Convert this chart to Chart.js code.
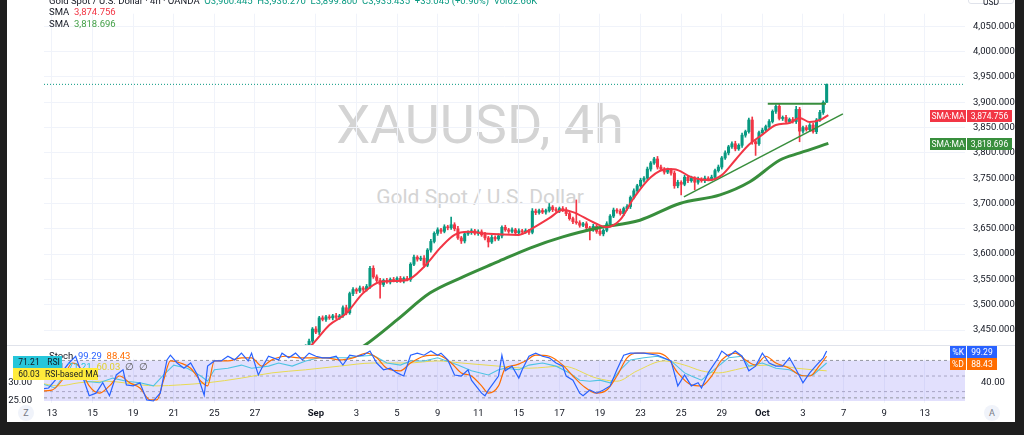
<!DOCTYPE html>
<html>
<head>
<meta charset="utf-8">
<title>XAUUSD, 4h</title>
<script src="https://cdn.jsdelivr.net/npm/chart.js@4.4.1/dist/chart.umd.min.js"></script>
<style>
  html, body { margin: 0; padding: 0; width: 1024px; height: 435px; overflow: hidden; background: #1e1e1e; }
  body { position: relative; font-family: Roboto, "Noto Sans", sans-serif; color: #131722; }
  #panel { position: absolute; left: 7px; top: 0; width: 1008px; height: 422px; background: #fff; }
  canvas { position: absolute; left: 7px; }
  #main { top: 0; }
  #osc  { top: 345px; }
  .abs  { position: absolute; white-space: nowrap; }
  .wm1  { left: 230px; width: 500px; top: 95px; text-align: center; font-size: 54px; line-height: 60px; color: #d4d4d4; }
  .wm2  { left: 280px; width: 400px; top: 184px; text-align: center; font-size: 21px; line-height: 26px; color: #d4d4d4; }
  .leg  { left: 49px; font-size: 9.5px; line-height: 12px; color: #131722; }
  .up   { color: #089981; }
  .badge { position: absolute; height: 12px; line-height: 12px; font-size: 8.5px; text-align: center; color: #fff; white-space: nowrap; }
  .sep  { left: 7px; top: 345px; width: 1008px; height: 1px; background: #e0e3eb; }
  .circ { width: 16px; height: 16px; border-radius: 8px; background: #f0f3fa; font-size: 9px; line-height: 16px; text-align: center; color: #787b86; }
</style>
</head>
<body>
<div id="panel"></div>
<div class="abs wm1">XAUUSD, 4h</div>
<div class="abs wm2">Gold Spot / U.S. Dollar</div>
<div class="abs sep"></div>
<canvas id="main" width="1008" height="345"></canvas>
<canvas id="osc" width="1008" height="77"></canvas>

<!-- legend, main pane -->
<div class="abs leg" style="top:-5px">Gold Spot / U.S. Dollar · 4h · OANDA&nbsp; <span class="up">O3,900.445&nbsp; H3,936.270&nbsp; L3,899.800&nbsp; C3,935.435&nbsp; +35.045 (+0.90%)&nbsp; Vol62.66K</span></div>
<div class="abs leg" style="top:6px">SMA&nbsp; <span style="color:#f23645">3,874.756</span></div>
<div class="abs leg" style="top:18px">SMA&nbsp; <span style="color:#43a047">3,818.696</span></div>

<!-- price scale badges -->
<div class="badge" style="left:968px;top:-9px;width:44px;height:11px;border:1px solid #e0e3eb;border-radius:3px;color:#131722;line-height:20px">USD</div>
<div class="badge" style="left:930px;top:110px;width:36px;background:#f23645">SMA:MA</div>
<div class="badge" style="left:967px;top:110px;width:45px;background:#f23645">3,874.756</div>
<div class="badge" style="left:930px;top:138px;width:36px;background:#388e3c">SMA:MA</div>
<div class="badge" style="left:967px;top:138px;width:45px;background:#388e3c">3,818.696</div>

<!-- legend, oscillator pane -->
<div class="abs leg" style="top:350px">Stoch&nbsp; <span style="color:#2962ff">99.29</span>&nbsp; <span style="color:#ff6d00">88.43</span></div>
<div class="abs leg" style="top:361px">RSI&nbsp; <span style="color:#26c6da">71.21</span>&nbsp; <span style="color:#e0cf2a">60.03</span>&nbsp; <span style="color:#555">∅&nbsp; ∅</span></div>
<div class="badge" style="left:13px;top:356px;width:32px;background:#26c6da;color:#131722">71.21</div>
<div class="badge" style="left:45px;top:356px;width:17px;background:#26c6da;color:#131722">RSI</div>
<div class="badge" style="left:13px;top:368px;width:32px;background:#ffeb3b;color:#131722">60.03</div>
<div class="badge" style="left:45px;top:368px;width:53px;background:#ffeb3b;color:#131722">RSI-based MA</div>
<div class="badge" style="left:950px;top:346px;width:16px;background:#2962ff">%K</div>
<div class="badge" style="left:967px;top:346px;width:30px;background:#2962ff">99.29</div>
<div class="badge" style="left:950px;top:358px;width:16px;background:#ff6d00">%D</div>
<div class="badge" style="left:967px;top:358px;width:30px;background:#ff6d00">88.43</div>

<div class="abs circ" style="left:18px;top:405px">Z</div>
<div class="abs circ" style="left:984px;top:405px">A</div>

<script>
"use strict";

/* ── defaults ───────────────────────────────────────────────────────── */
Chart.defaults.font.family = "Roboto, 'Noto Sans', sans-serif";
Chart.defaults.color = "#131722";

const GRID = "#f0f3fa";
const UP   = "#089981";
const DOWN = "#f23645";

/* x axis is counted in 4h bars from Aug 13 (6 bars per trading day) */
const X_MIN = -2.36, X_MAX = 269.9;
const FIRST_BAR = 75;

const dateTicks  = [0, 12, 24, 36, 48, 60, 78, 90, 102, 114, 126, 138, 150, 162, 174, 186, 198, 210, 222, 234, 246, 258];
const dateLabels = ["13", "15", "19", "21", "25", "27", "Sep", "3", "5", "9", "11", "15", "17", "19", "23", "25", "29", "Oct", "3", "7", "9", "13"];
const priceTicks = [3450, 3500, 3550, 3600, 3650, 3700, 3750, 3800, 3850, 3900, 3950, 4000, 4050];
const PRICE_MIN = 3420.4, PRICE_MAX = 4102.1;   // bottom / top of the price pane

/* ── candles (visible part only) ─────────────────────────────────────── */
const firstOpen = 3410;
const closes = [
  3418, 3428, 3452, 3446, 3474, 3471, 3476, 3474, 3478, 3475,
  3478, 3494, 3484, 3522, 3530, 3527, 3533, 3530, 3536, 3572,
  3555, 3548, 3540, 3548, 3545, 3550, 3548, 3552, 3547, 3552,
  3550, 3580, 3594, 3590, 3592, 3578, 3608, 3625, 3641, 3648,
  3645, 3654, 3652, 3658, 3650, 3632, 3626, 3640, 3643, 3646,
  3641, 3644, 3638, 3632, 3624, 3633, 3630, 3636, 3653, 3648,
  3645, 3648, 3642, 3646, 3644, 3646, 3643, 3685, 3682, 3686,
  3683, 3686, 3693, 3688, 3686, 3690, 3687, 3680, 3670, 3664,
  3662, 3657, 3660, 3652, 3648, 3655, 3645, 3640, 3647, 3660,
  3675, 3687, 3685, 3680, 3690, 3694, 3712, 3725, 3735, 3746,
  3750, 3768, 3780, 3788, 3772, 3768, 3762, 3766, 3760, 3735,
  3742, 3738, 3752, 3745, 3750, 3742, 3748, 3745, 3750, 3748,
  3752, 3765, 3772, 3790, 3800, 3812, 3818, 3808, 3815, 3835,
  3842, 3865, 3822, 3818, 3840, 3845, 3852, 3862, 3882, 3892,
  3868, 3870, 3862, 3866, 3862, 3886, 3843, 3850, 3846, 3855,
  3842, 3865, 3880, 3900, 3935.435
];
const upperWick = [
  3, 4, 3, 5, 3, 4, 3, 4, 3, 5,   3, 4, 5, 3, 4, 3, 4, 3, 4, 4,
  5, 4, 4, 3, 4, 3, 4, 3, 4, 3,   4, 3, 4, 3, 4, 5, 3, 4, 3, 4,
  3, 4, 3, 15, 4, 5, 3, 4, 3, 4,  3, 4, 4, 5, 3, 4, 3, 4, 3, 4,
  3, 4, 3, 4, 3, 4, 3, 5, 4, 3,   4, 3, 7, 3, 4, 3, 4, 5, 4, 3,
  43, 4, 3, 4, 3, 4, 3, 4, 3, 4,  3, 4, 3, 4, 3, 4, 3, 4, 3, 4,
  3, 4, 3, 3, 5, 4, 3, 4, 3, 4,   4, 3, 4, 3, 4, 3, 4, 3, 4, 3,
  4, 3, 4, 3, 4, 3, 4, 5, 3, 4,   3, 4, 6, 4, 3, 4, 3, 4, 3, 3,
  4, 3, 4, 3, 4, 6, 4, 3, 4, 3,   4, 3, 4, 3, 0.8
];
const lowerWick = [
  4, 3, 4, 3, 5, 3, 4, 3, 4, 3,   4, 3, 4, 3, 4, 5, 3, 4, 3, 4,
  3, 4, 27, 4, 3, 4, 3, 4, 3, 4,  3, 4, 3, 4, 3, 4, 3, 4, 3, 4,
  4, 3, 4, 3, 4, 3, 5, 4, 3, 4,   3, 4, 3, 4, 10, 3, 4, 3, 4, 3,
  4, 3, 4, 3, 4, 3, 4, 3, 4, 3,   3, 4, 3, 4, 3, 4, 3, 4, 3, 4,
  3, 4, 3, 4, 20, 3, 4, 3, 4, 3,  4, 3, 4, 3, 4, 3, 4, 3, 4, 3,
  4, 3, 4, 3, 4, 3, 4, 3, 4, 5,   4, 21, 3, 4, 3, 15, 4, 3, 4, 3,
  3, 4, 3, 4, 3, 4, 3, 4, 3, 4,   4, 3, 5, 23, 3, 4, 3, 4, 3, 4,
  3, 4, 3, 4, 3, 4, 21, 4, 3, 4,  3, 4, 3, 4, 0.6
];

/* ── moving averages and drawings, [bar, price] ──────────────────────── */
const smaFast = [[74, 3405], [77, 3422], [82, 3460], [87, 3483], [92, 3523], [97, 3545], [105, 3549],
  [110, 3575], [115, 3614], [119, 3638], [123, 3644], [129, 3640], [138, 3638], [142, 3651], [147, 3671],
  [151, 3687], [154, 3683], [160, 3663], [164, 3653], [168, 3668], [172, 3711], [177, 3752], [182, 3768],
  [185, 3766], [189, 3752], [194, 3746], [198, 3756], [202, 3786], [206, 3816], [210, 3836], [214, 3855],
  [218, 3859], [221, 3869], [224, 3861], [227, 3865], [229.5, 3874.756]];
const smaSlow = [[88.7, 3405], [92.5, 3420], [102, 3470], [111.7, 3523], [121.5, 3555], [131.5, 3584],
  [141.3, 3612], [151, 3634], [161, 3651], [173.8, 3667], [185.6, 3700], [197.5, 3717], [206.3, 3743],
  [215.2, 3786], [221.1, 3800], [229.5, 3818.696]];
const trendUp    = [[186.8, 3713], [233.8, 3877]];
const resistance = [[211.6, 3897], [228.8, 3897]];
const lastPrice  = 3935.435;

/* ── oscillator pane, [bar, value] ───────────────────────────────────── */
const stochK = [[-4, 24], [-1, 27], [2, 50], [5, 75], [7, 88], [9, 50], [11, 12], [13, 17], [15, 37], [17, 12],
  [19, 52], [21, 62], [22, 33], [24, 31], [26, 37], [28, 4], [30, 2], [32, 17], [34, 81], [35, 90], [37, 75],
  [39, 65], [41, 75], [43, 52], [45, 13], [46, 69], [48, 79], [50, 79], [52, 88], [54, 81], [56, 94], [58, 79],
  [59, 94], [61, 52], [62, 65], [64, 88], [67, 81], [68, 94], [70, 85], [72, 94], [74, 81], [76, 94], [78, 88],
  [80, 85], [82, 85], [84, 88], [86, 71], [88, 90], [90, 88], [92, 90], [94, 98], [96, 75], [98, 62], [100, 65],
  [102, 56], [104, 50], [106, 90], [108, 94], [110, 90], [112, 98], [114, 90], [115, 94], [117, 81], [119, 52],
  [121, 50], [123, 62], [124, 42], [127, 17], [128, 12], [129, 23], [132, 50], [133, 90], [134, 60], [136, 69],
  [138, 46], [139, 62], [141, 88], [143, 94], [145, 88], [147, 85], [149, 75], [151, 69], [152, 50], [154, 42],
  [156, 17], [157, 12], [159, 23], [161, 17], [163, 23], [165, 31], [167, 62], [169, 90], [171, 94], [175, 94],
  [179, 90], [183, 79], [185, 31], [187, 52], [189, 31], [191, 37], [192, 27], [194, 56], [197, 85], [198, 98],
  [200, 88], [202, 98], [204, 88], [206, 60], [208, 69], [210, 94], [212, 75], [214, 69], [216, 69], [218, 85],
  [220, 62], [222, 37], [224, 56], [226, 71], [228, 85], [229, 98]];
const stochD = [[-4, 21], [0, 23], [3, 42], [6, 75], [8, 69], [11, 31], [14, 17], [17, 31], [20, 50], [23, 37],
  [26, 27], [29, 4], [31, 4], [33, 42], [35, 79], [38, 75], [41, 65], [44, 40], [46, 31], [48, 79], [52, 79],
  [56, 85], [59, 85], [62, 69], [65, 81], [69, 88], [73, 85], [77, 85], [81, 85], [85, 81], [89, 85], [93, 94],
  [96, 85], [99, 65], [103, 60], [106, 75], [110, 88], [114, 90], [118, 75], [121, 56], [124, 50], [127, 31],
  [129, 17], [132, 31], [134, 65], [137, 71], [140, 79], [143, 90], [147, 88], [151, 71], [154, 50], [157, 31],
  [161, 17], [164, 23], [167, 50], [170, 85], [173, 94], [179, 94], [182, 85], [185, 56], [189, 33], [192, 31],
  [195, 50], [198, 81], [202, 94], [205, 81], [208, 71], [211, 88], [214, 75], [218, 65], [221, 52], [224, 50],
  [227, 71], [229, 88]];
const rsi = [[-4, 37], [1, 27], [4, 56], [7, 62], [10, 40], [14, 37], [18, 46], [22, 40], [26, 37], [30, 31],
  [33, 52], [36, 71], [40, 65], [44, 50], [46, 40], [48, 62], [52, 65], [56, 71], [59, 65], [64, 69], [67, 75],
  [71, 69], [75, 79], [79, 85], [83, 85], [87, 85], [91, 88], [95, 90], [99, 75], [103, 71], [106, 79], [110, 79],
  [114, 85], [120, 71], [124, 60], [129, 52], [132, 62], [134, 65], [138, 62], [141, 71], [145, 75], [149, 69],
  [153, 56], [156, 42], [159, 40], [162, 42], [165, 37], [168, 62], [171, 81], [175, 85], [179, 88], [183, 79],
  [187, 56], [189, 50], [192, 42], [197, 69], [200, 85], [204, 88], [206, 69], [210, 75], [214, 65], [218, 62],
  [222, 50], [225, 52], [229, 75]];
const rsiMA = [[-4, 37], [2, 31], [8, 37], [16, 40], [26, 33], [31, 31], [38, 33], [46, 37], [56, 46], [65, 56],
  [75, 62], [85, 69], [95, 75], [105, 75], [114, 79], [121, 75], [132, 69], [141, 65], [151, 69], [161, 46],
  [167, 40], [173, 60], [181, 79], [187, 71], [192, 60], [197, 56], [202, 62], [207, 69], [214, 71], [220, 65],
  [229, 60]];
const oscLevels = [80, 50, 20, 8];
const bandTop = 80, bandBottom = 2;
const OSC_MIN = -1.9, OSC_MAX = 105.8;          // bottom / top of the oscillator pane
const rightOscTicks = [37],    rightOscLabels = ["40.00"];
const leftOscTicks  = [38, 2], leftOscLabels  = ["30.00", "25.00"];

/* ── helpers ────────────────────────────────────────────────────────── */
const pts   = (arr) => arr.map(([x, y]) => ({ x, y }));
const hline = (v) => [{ x: X_MIN, y: v }, { x: X_MAX, y: v }];
const fmt   = (v) => v.toLocaleString("en-US", { minimumFractionDigits: 3, maximumFractionDigits: 3 });

const bodies = [], wicks = [], candleColors = [];
closes.forEach((c, i) => {
  const o = i === 0 ? firstOpen : closes[i - 1];
  const x = FIRST_BAR + i;
  bodies.push({ x, y: [o, c] });
  wicks.push({ x, y: [Math.min(o, c) - lowerWick[i], Math.max(o, c) + upperWick[i]] });
  candleColors.push(c >= o ? UP : DOWN);
});

const lineDs = (data, color, width, extra = {}) => Object.assign({
  type: "line", data, borderColor: color, borderWidth: width,
  pointRadius: 0, fill: false, tension: 0,
}, extra);

const xScale = (showLabels) => ({
  type: "linear", min: X_MIN, max: X_MAX, offset: false,
  grid: { color: GRID, drawTicks: false, offset: false },
  border: { display: false },
  afterBuildTicks: (s) => { s.ticks = dateTicks.map((v) => ({ value: v })); },
  ticks: showLabels ? {
    autoSkip: false, maxRotation: 0, padding: 5, color: "#131722",
    callback: (v, i) => dateLabels[i],
    font: (c) => ({ size: 9.5, weight: /^[A-Z]/.test(dateLabels[c.index] || "") ? "bold" : "normal" }),
  } : { display: false },
  afterFit: (s) => { s.height = showLabels ? 19 : 0; },
});

const baseOpts = {
  responsive: false, animation: false, events: [],
  plugins: { legend: { display: false }, tooltip: { enabled: false } },
};

/* Chart.js keeps a label inset above and below the plot; widen the value
   range so that vTop sits at canvas pixel pxTop and vBottom at pxBottom,
   and let the marks draw into that inset. */
function pinRange(chart, ids, vTop, vBottom, pxTop, pxBottom) {
  const { top, bottom } = chart.chartArea;
  const perPx = (vTop - vBottom) / (pxBottom - pxTop);
  ids.forEach((id) => {
    chart.options.scales[id].max = vTop - (top - pxTop) * perPx;
    chart.options.scales[id].min = vTop - (bottom - pxTop) * perPx;
  });
  const clip = { left: 0, right: 0, top: Math.max(0, top - pxTop), bottom: Math.max(0, pxBottom - bottom) };
  chart.data.datasets.forEach((ds) => { ds.clip = clip; });
  chart.update("none");
}

/* ── main price pane ────────────────────────────────────────────────── */
const mainChart = new Chart(document.getElementById("main"), {
  type: "bar",
  data: {
    datasets: [
      lineDs(pts(smaFast), "#f23645", 2, { order: 0, cubicInterpolationMode: "monotone" }),
      lineDs(pts(trendUp), "#388e3c", 1.5, { order: 0 }),
      lineDs(pts(resistance), "#388e3c", 2, { order: 0 }),
      lineDs(pts(smaSlow), "#388e3c", 3, { order: 1, cubicInterpolationMode: "monotone" }),
      { label: "bodies", data: bodies, backgroundColor: candleColors, barThickness: 2.4,
        grouped: false, minBarLength: 1, order: 2 },
      { label: "wicks", data: wicks, backgroundColor: candleColors, barThickness: 1,
        grouped: false, order: 3 },
      lineDs(hline(lastPrice), "#089981", 1, { order: 4, borderDash: [1, 2] }),
    ],
  },
  options: Object.assign({}, baseOpts, {
    layout: { autoPadding: false, padding: { left: 37, top: 0, right: 0, bottom: 0 } },
    scales: {
      x: xScale(false),
      y: {
        position: "right", min: PRICE_MIN, max: PRICE_MAX,
        grid: { color: GRID, drawTicks: false },
        border: { display: false },
        afterBuildTicks: (s) => { s.ticks = priceTicks.map((v) => ({ value: v })); },
        ticks: { padding: 8, color: "#131722", font: { size: 9.5 }, callback: (v) => fmt(v) },
        afterFit: (s) => { s.width = 50; },
      },
    },
  }),
});
pinRange(mainChart, ["y"], PRICE_MAX, PRICE_MIN, 0, 345);

/* ── oscillator pane (Stoch + RSI) ──────────────────────────────────── */
const oscDatasets = [
  lineDs(pts(stochK), "#2962ff", 1.2, { order: 0 }),
  lineDs(pts(stochD), "#ff6d00", 1.2, { order: 1, cubicInterpolationMode: "monotone" }),
  lineDs(pts(rsi), "#4fc3e3", 1.1, { order: 2 }),
  lineDs(pts(rsiMA), "#e8da52", 1, { order: 3, cubicInterpolationMode: "monotone" }),
];
oscLevels.forEach((v, i) => oscDatasets.push(
  lineDs(hline(v), i === 0 || i === 3 ? "#9598a1" : "#a9a6c6", 1, { order: 5, borderDash: [3, 3] })));
oscDatasets.push(lineDs(hline(bandTop), "rgba(0,0,0,0)", 0, {
  order: 6, fill: { value: bandBottom }, backgroundColor: "rgba(110,100,245,0.2)",
}));

const oscChart = new Chart(document.getElementById("osc"), {
  type: "line",
  data: { datasets: oscDatasets },
  options: Object.assign({}, baseOpts, {
    layout: { autoPadding: false, padding: { left: 0, top: 0, right: 0, bottom: 0 } },
    scales: {
      x: xScale(true),
      y: {
        position: "right", min: OSC_MIN, max: OSC_MAX,
        grid: { display: false }, border: { display: false },
        afterBuildTicks: (s) => { s.ticks = rightOscTicks.map((v) => ({ value: v })); },
        ticks: { padding: 8, color: "#131722", font: { size: 9.5 }, callback: (v, i) => rightOscLabels[i] },
        afterFit: (s) => { s.width = 50; },
      },
      yl: {
        type: "linear", position: "left", min: OSC_MIN, max: OSC_MAX,
        grid: { display: false }, border: { display: false },
        afterBuildTicks: (s) => { s.ticks = leftOscTicks.map((v) => ({ value: v })); },
        ticks: { padding: 4, color: "#131722", font: { size: 9.5 }, callback: (v, i) => leftOscLabels[i] },
        afterFit: (s) => { s.width = 37; },
      },
    },
  }),
});
pinRange(oscChart, ["y", "yl"], OSC_MAX, OSC_MIN, 2, 58);
</script>
</body>
</html>
